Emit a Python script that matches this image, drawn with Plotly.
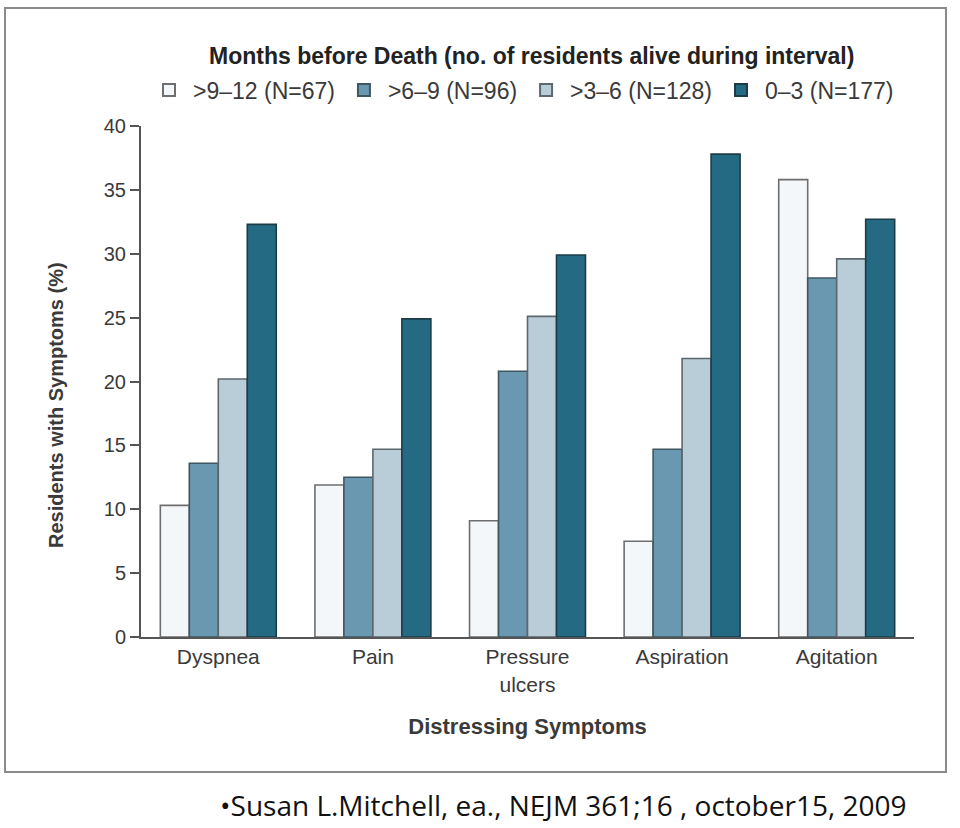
import plotly.graph_objects as go

categories = ["Dyspnea", "Pain", "Pressure<br>ulcers", "Aspiration", "Agitation"]
series_names = [">9\u201312 (N=67)", ">6\u20139 (N=96)", ">3\u20136 (N=128)", "0\u20133 (N=177)"]
v_9_12 = [10.3, 11.9, 9.1, 7.5, 35.8]
v_6_9 = [13.6, 12.5, 20.8, 14.7, 28.1]
v_3_6 = [20.2, 14.7, 25.1, 21.8, 29.6]
v_0_3 = [32.3, 24.9, 29.9, 37.8, 32.7]
y_ticks = [0, 5, 10, 15, 20, 25, 30, 35, 40]

series_values = [v_9_12, v_6_9, v_3_6, v_0_3]
fills = ["#f4f7f9", "#6a98b0", "#b9cdd9", "#256a83"]
lines = ["#6e6e6e", "#3f5763", "#5d676d", "#1c3c48"]

W, H = 960, 828
L, R, T, B = 141, 46, 126, 191
pw = W - L - R
ph = H - T - B

def px(x):
    return (x - L) / pw

def py(y):
    return (H - B - y) / ph

fig = go.Figure()
for name, vals, fc, lc in zip(series_names, series_values, fills, lines):
    fig.add_trace(go.Bar(
        x=categories, y=vals, name=name,
        marker=dict(color=fc, line=dict(color=lc, width=1.6)),
    ))

font_family = "Liberation Sans, Arial, sans-serif"
txt = "#3a3a3a"

fig.update_layout(
    width=W, height=H,
    margin=dict(l=L, r=R, t=T, b=B),
    paper_bgcolor="white", plot_bgcolor="white",
    barmode="group", bargap=0.25, bargroupgap=0,
    font=dict(family=font_family, color=txt, size=20),
    showlegend=True,
    legend=dict(
        orientation="h", x=px(522), xanchor="center", y=py(90), yanchor="middle",
        font=dict(size=23, color=txt), itemsizing="constant",
        traceorder="normal", itemwidth=38,
    ),
    xaxis=dict(
        range=[-0.5, 4.5], showline=True, linecolor="#555555", linewidth=2,
        ticks="", showgrid=False, zeroline=False,
        tickfont=dict(size=21, color=txt),
        title=dict(text="<b>Distressing Symptoms</b>", font=dict(size=22, color=txt), standoff=24),
    ),
    yaxis=dict(
        range=[0, 40], tickvals=y_ticks, showline=True, linecolor="#555555", linewidth=2,
        ticks="outside", ticklen=9, tickcolor="#555555", tickwidth=1.5,
        showgrid=False, zeroline=False,
        tickfont=dict(size=20, color=txt),
    ),
    shapes=[
        dict(type="rect", xref="paper", yref="paper",
             x0=px(5), x1=px(946), y0=py(772), y1=py(8),
             line=dict(color="#8a8a8a", width=2), fillcolor="rgba(0,0,0,0)", layer="below"),
    ],
    annotations=[
        dict(text="<b>Months before Death (no. of residents alive during interval)</b>",
             xref="paper", yref="paper", x=px(531), y=py(56), xanchor="center", yanchor="middle",
             showarrow=False, font=dict(size=23, color="#222222")),
        dict(text="<b>Residents with Symptoms (%)</b>", textangle=-90,
             xref="paper", yref="paper", x=px(56), y=py(405), xanchor="center", yanchor="middle",
             showarrow=False, font=dict(size=20, color=txt)),
        dict(text="\u2022Susan L.Mitchell, ea., NEJM 361;16 , october15, 2009",
             xref="paper", yref="paper", x=px(218), y=py(805), xanchor="left", yanchor="middle",
             showarrow=False, font=dict(size=28, color="#111111", family="Open Sans, sans-serif")),
    ],
)

fig.write_html("out.html")
